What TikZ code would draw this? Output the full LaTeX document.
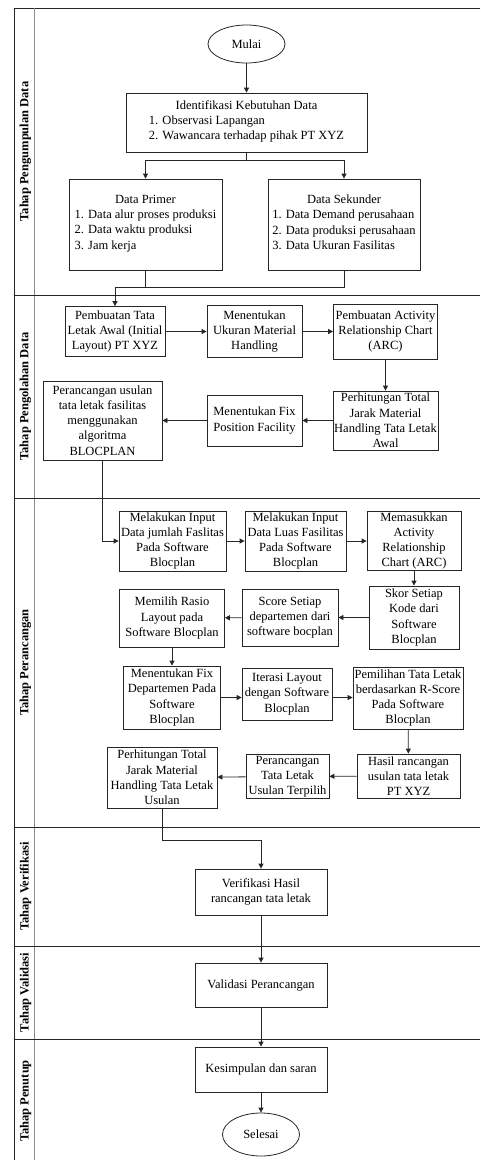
\documentclass[tikz,border=0pt]{standalone}
\usepackage{fontspec}
\setmainfont{Liberation Serif}
\usetikzlibrary{arrows.meta,shapes.geometric}
\begin{document}
\begin{tikzpicture}[x=1pt,y=-1pt,
  box/.style={draw=black!85,line width=0.8pt,align=center,inner sep=1pt,
    font=\fontsize{12.5}{15.2}\selectfont},
  oval/.style={ellipse,draw=black!85,line width=0.8pt,inner sep=0pt,
    font=\fontsize{12.5}{15.2}\selectfont},
  conn/.style={draw=black!85,line width=0.8pt},
  arr/.style={conn,-{Triangle[length=5pt,width=5pt]}},
  lane/.style={draw=black!85,line width=0.9pt},
  lanelabel/.style={rotate=90,font=\bfseries\fontsize{12.5}{14}\selectfont}
]
\useasboundingbox (0,0) rectangle (480,1160);

% swimlane frame
\draw[lane] (480,8) -- (14,8) -- (14,1160);
\draw[draw=black!45,line width=1pt] (34,8) -- (34,1160);
\foreach \yy in {295,498,827,946,1039}
  \draw[lane] (14,\yy) -- (480,\yy);

\node[lanelabel] (l1) at (25.5,151.5) {Tahap Pengumpulan Data};
\node[lanelabel] (l2) at (25.5,396.5) {Tahap Pengolahan Data};
\node[lanelabel] (l3) at (25.5,662.5) {Tahap Perancangan};
\node[lanelabel] (l4) at (25.5,886.5) {Tahap Verifikasi};
\node[lanelabel] (l5) at (25.5,992.5) {Tahap Validasi};
\node[lanelabel] (l6) at (25.5,1101) {Tahap Penutup};

% lane 1
\node[oval,minimum width=77pt,minimum height=38pt] (mulai) at (246.5,44) {Mulai};
\node[box,minimum width=241pt,minimum height=59pt] (ident) at (246.5,122.5)
  {Identifikasi Kebutuhan Data\\
   \begin{tabular}[t]{@{}l@{}}1. Observasi Lapangan\\2. Wawancara terhadap pihak PT XYZ\end{tabular}};
\node[box,minimum width=153pt,minimum height=91pt] (primer) at (145.5,224.5)
  {Data Primer\\
   \begin{tabular}[t]{@{}l@{}}1. Data alur proses produksi\\2. Data waktu produksi\\3. Jam kerja\end{tabular}};
\node[box,minimum width=152pt,minimum height=91pt] (sekunder) at (344,224.5)
  {Data Sekunder\\
   \begin{tabular}[t]{@{}l@{}}1. Data Demand perusahaan\\2. Data produksi perusahaan\\3. Data Ukuran Fasilitas\end{tabular}};

% lane 2
\node[box,minimum width=100pt,minimum height=50pt] (awal) at (115,331.5)
  {Pembuatan Tata\\Letak Awal (Initial\\Layout) PT XYZ};
\node[box,minimum width=95pt,minimum height=52pt] (ukuran) at (254.5,331.5)
  {Menentukan\\Ukuran Material\\Handling};
\node[box,minimum width=104pt,minimum height=55pt] (arc) at (385.5,331.5)
  {Pembuatan Activity\\Relationship Chart\\(ARC)};
\node[box,minimum width=105pt,minimum height=59pt] (jarak) at (385.5,420.5)
  {Perhitungan Total\\Jarak Material\\Handling Tata Letak\\Awal};
\node[box,minimum width=95pt,minimum height=51pt] (fixpos) at (254.5,420.5)
  {Menentukan Fix\\Position Facility};
\node[box,minimum width=119pt,minimum height=79pt] (usulan) at (102.5,420.5)
  {Perancangan usulan\\tata letak fasilitas\\menggunakan\\algoritma\\BLOCPLAN};

% lane 3
\node[box,minimum width=107pt,minimum height=60pt] (input1) at (172.5,541)
  {Melakukan Input\\Data jumlah Faslitas\\Pada Software\\Blocplan};
\node[box,minimum width=101pt,minimum height=60pt] (input2) at (295.5,541)
  {Melakukan Input\\Data Luas Fasilitas\\Pada Software\\Blocplan};
\node[box,minimum width=94pt,minimum height=56pt] (masuk) at (414,541)
  {Memasukkan\\Activity\\Relationship\\Chart (ARC)};
\node[box,minimum width=90pt,minimum height=63pt] (skor) at (414,617.5)
  {Skor Setiap\\Kode dari\\Software\\Blocplan};
\node[box,minimum width=96pt,minimum height=57pt] (score) at (290,617.5)
  {Score Setiap\\departemen dari\\software bocplan};
\node[box,minimum width=105pt,minimum height=58pt] (rasio) at (172,618)
  {Memilih Rasio\\Layout pada\\Software Blocplan};
\node[box,minimum width=97pt,minimum height=63pt] (fixdept) at (172,697.5)
  {Menentukan Fix\\Departemen Pada\\Software\\Blocplan};
\node[box,minimum width=90pt,minimum height=52pt] (iterasi) at (287,694)
  {Iterasi Layout\\dengan Software\\Blocplan};
\node[box,minimum width=110pt,minimum height=62pt] (rscore) at (408,698)
  {Pemilihan Tata Letak\\berdasarkan R-Score\\Pada Software\\Blocplan};
\node[box,minimum width=103pt,minimum height=44pt] (hasil) at (408.5,776)
  {Hasil rancangan\\usulan tata letak\\PT XYZ};
\node[box,minimum width=83pt,minimum height=43pt] (terpilih) at (287.5,776.5)
  {Perancangan\\Tata Letak\\Usulan Terpilih};
\node[box,minimum width=110pt,minimum height=61pt] (jarakusulan) at (162,777.5)
  {Perhitungan Total\\Jarak Material\\Handling Tata Letak\\Usulan};

% lanes 4-6
\node[box,minimum width=132pt,minimum height=46pt] (verif) at (261,892)
  {Verifikasi Hasil\\rancangan tata letak};
\node[box,minimum width=132pt,minimum height=44pt] (valid) at (261,985)
  {Validasi Perancangan};
\node[box,minimum width=132pt,minimum height=45pt] (kesimpulan) at (261,1069.5)
  {Kesimpulan dan saran};
\node[oval,minimum width=77pt,minimum height=43pt] (selesai) at (261,1134.5) {Selesai};

% connectors
\coordinate (split) at (246.5,160);
\coordinate (join) at (115,287);
\draw[arr] (mulai) -- (ident);
\draw[conn] (ident.south) -- (split);
\draw[arr] (split) -| (primer.north);
\draw[arr] (split) -| (sekunder.north);
\draw[conn] (primer.south) |- (join);
\draw[conn] (sekunder.south) |- (join);
\draw[arr] (join) -- (awal.north);

\draw[arr] (awal) -- (ukuran);
\draw[arr] (ukuran) -- (arc);
\draw[arr] (arc) -- (jarak);
\draw[arr] (jarak) -- (fixpos);
\draw[arr] (fixpos) -- (usulan);
\draw[arr] (usulan.south) |- (input1.west);

\draw[arr] (input1) -- (input2);
\draw[arr] (input2) -- (masuk);
\draw[arr] (masuk) -- (skor);
\draw[arr] (skor) -- (score);
\draw[arr] (score) -- (rasio);
\draw[arr] (rasio) -- (fixdept);
\draw[arr] (fixdept.east) -- (iterasi.west |- fixdept.east);
\draw[arr] (iterasi.east |- fixdept.east) -- (rscore.west |- fixdept.east);
\draw[arr] (rscore) -- (hasil);
\draw[arr] (hasil) -- (terpilih);
\draw[arr] (terpilih) -- (jarakusulan);
\draw[arr] (jarakusulan.south) -- ++(0,31.5) -| (verif.north);

\draw[arr] (verif) -- (valid);
\draw[arr] (valid) -- (kesimpulan);
\draw[arr] (kesimpulan) -- (selesai);
\end{tikzpicture}
\end{document}
